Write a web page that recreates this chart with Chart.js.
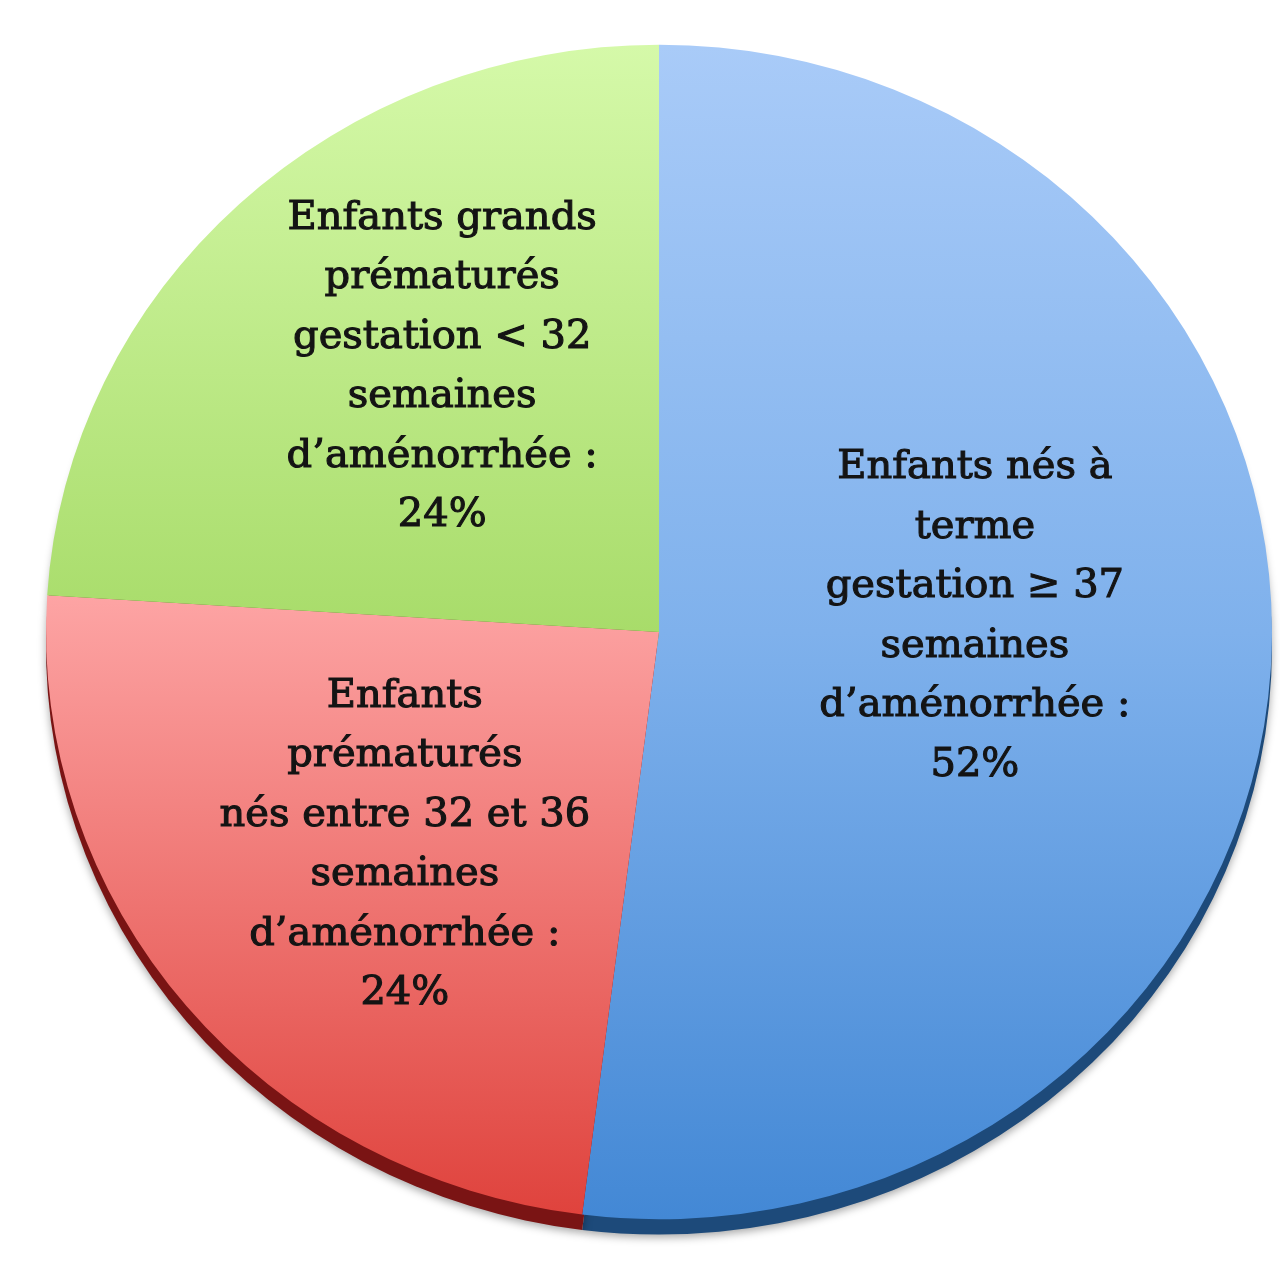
<!DOCTYPE html>
<html lang="fr">
<head>
<meta charset="UTF-8">
<title>Répartition des naissances selon le terme</title>
<script src="https://cdn.jsdelivr.net/npm/chart.js"></script>
<style>
  html, body { margin: 0; padding: 0; background: #fff; }
  #wrap { width: 1280px; height: 1280px; }
</style>
</head>
<body>
<div id="wrap"><canvas id="pie-chart" width="1280" height="1280"></canvas></div>

<script>
// données
var categories = [
    'Enfants nés à terme',
    'Enfants prématurés nés entre 32 et 36 SA',
    'Enfants grands prématurés'
];
var valeurs = [52, 24, 24];

var etiquettes = [
    ['Enfants nés à', 'terme', 'gestation ≥ 37', 'semaines', 'd’aménorrhée :', '52%'],
    ['Enfants', 'prématurés', 'nés entre 32 et 36', 'semaines', 'd’aménorrhée :', '24%'],
    ['Enfants grands', 'prématurés', 'gestation < 32', 'semaines', 'd’aménorrhée :', '24%']
];

// couleurs (haut, milieu, bas) et bord foncé
var degrades = [
    [[0, '#a9cbf8'], [0.5, '#7fb1ec'], [1, '#4388d5']],
    [[0, '#ffd0d0'], [0.47, '#fda4a4'], [1, '#df423c']],
    [[0, '#d5f9a9'], [0.5, '#a8dc6a'], [1, '#7cc63e']]
];
var bords = ['#1d4a7a', '#7a1414', '#4f7a20'];

var ECRASE = 0.958;          // le disque est légèrement aplati
var decalages = [[10, -34], [-18, 26], [-7, -51]];

function degrade(context) {
    var chart = context.chart;
    var area = chart.chartArea;
    if (!area) return '#999';
    var g = chart.ctx.createLinearGradient(0, area.top, 0, area.bottom);
    degrades[context.dataIndex].forEach(function(s) { g.addColorStop(s[0], s[1]); });
    return g;
}

// aplatit le disque et dessine l'épaisseur du dessous
var disquePlugin = {
    id: 'disque',
    beforeDatasetsDraw: function(chart) {
        var ctx = chart.ctx;
        var arcs = chart.getDatasetMeta(0).data;
        var cx = arcs[0].x, cy = arcs[0].y;
        ctx.save();
        ctx.translate(cx, cy);
        ctx.scale(1, ECRASE);
        ctx.translate(-cx, -cy);
        // ombre + tranche
        arcs.forEach(function(a, i) {
            ctx.save();
            ctx.translate(0, 16);
            ctx.beginPath();
            ctx.moveTo(a.x, a.y);
            ctx.arc(a.x, a.y, a.outerRadius, a.startAngle, a.endAngle);
            ctx.closePath();
            ctx.shadowColor = 'rgba(0,0,0,0.35)';
            ctx.shadowBlur = 8;
            ctx.shadowOffsetY = 3;
            ctx.fillStyle = bords[i];
            ctx.fill();
            ctx.restore();
        });
    },
    afterDatasetsDraw: function(chart) {
        chart.ctx.restore();
        var ctx = chart.ctx;
        var arcs = chart.getDatasetMeta(0).data;
        ctx.save();
        ctx.font = '40px "DejaVu Serif"';
        ctx.fillStyle = '#141414';
        ctx.strokeStyle = '#141414';
        ctx.lineWidth = 1.1;
        ctx.textAlign = 'center';
        ctx.textBaseline = 'middle';
        arcs.forEach(function(a, i) {
            var p = a.getCenterPoint();
            var x = p.x + decalages[i][0];
            var y = a.y + (p.y - a.y) * ECRASE + decalages[i][1];
            var lignes = etiquettes[i];
            var h = 59.5;
            var y0 = y - (lignes.length - 1) * h / 2;
            lignes.forEach(function(l, k) {
                ctx.fillText(l, x, y0 + k * h);
                ctx.strokeText(l, x, y0 + k * h);
            });
        });
        ctx.restore();
    }
};

var ctx = document.getElementById('pie-chart').getContext('2d');
var chart = new Chart(ctx, {
    type: 'pie',
    data: {
        labels: categories,
        datasets: [{
            data: valeurs,
            backgroundColor: degrade,
            borderWidth: 0
        }]
    },
    options: {
        responsive: false,
        animation: false,
        layout: { padding: { left: 46, right: 8, top: 19, bottom: 35 } },
        plugins: {
            legend: { display: false },
            tooltip: { enabled: false }
        }
    },
    plugins: [disquePlugin]
});
</script>
</body>
</html>
